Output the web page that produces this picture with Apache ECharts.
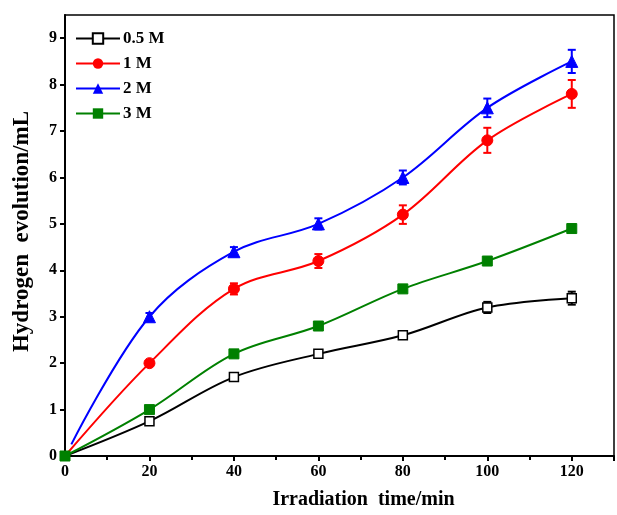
<!DOCTYPE html>
<html>
<head>
<meta charset="utf-8">
<script src="https://cdn.jsdelivr.net/npm/echarts@6/dist/echarts.min.js"></script>
<style>
  html, body { margin: 0; padding: 0; background: #fff; }
  #chart { width: 617px; height: 515px; }
</style>
</head>
<body>
<div id="chart"></div>
<script>
const times = [0, 20, 40, 60, 80, 100, 120];

// 0.5 M
const v05 = [0, 0.75, 1.7, 2.2, 2.6, 3.2, 3.4];
const e05 = [0, 0.08, 0.06, 0.06, 0.06, 0.12, 0.14];
// 1 M
const v1 = [0, 2.0, 3.6, 4.2, 5.2, 6.8, 7.8];
const e1 = [0, 0.05, 0.12, 0.15, 0.2, 0.27, 0.3];
// 2 M (line starts slightly off origin)
const t2 = [1.5, 20, 40, 60, 80, 100, 120];
const v2 = [0.25, 3.0, 4.4, 5.0, 6.0, 7.5, 8.5];
const e2 = [0, 0.08, 0.1, 0.12, 0.15, 0.2, 0.25];
// 3 M
const v3 = [0, 1.0, 2.2, 2.8, 3.6, 4.2, 4.9];
const e3 = [0, 0.05, 0.05, 0.05, 0.05, 0.05, 0.05];

const font = "'Liberation Serif', 'Times New Roman', serif";

function pts(xs, ys, hideFirst) {
  return xs.map((x, i) => {
    const d = { value: [x, ys[i]] };
    if (i === 0 && hideFirst) d.symbol = "none";
    return d;
  });
}

function errData(xs, ys, es) {
  const out = [];
  xs.forEach((x, i) => {
    if (es[i] > 0) out.push([x, ys[i], es[i]]);
  });
  return out;
}

function errSeries(name, color, data) {
  return {
    name: name,
    type: "custom",
    z: 1,
    silent: true,
    renderItem: (params, api) => {
      const x = api.value(0), y = api.value(1), e = api.value(2);
      const top = api.coord([x, y + e]);
      const bot = api.coord([x, y - e]);
      const cw = 4;
      const style = { stroke: color, lineWidth: 2 };
      return {
        type: "group",
        children: [
          { type: "line", shape: { x1: top[0], y1: top[1], x2: bot[0], y2: bot[1] }, style },
          { type: "line", shape: { x1: top[0] - cw, y1: top[1], x2: top[0] + cw, y2: top[1] }, style },
          { type: "line", shape: { x1: bot[0] - cw, y1: bot[1], x2: bot[0] + cw, y2: bot[1] }, style },
        ],
      };
    },
    data: data,
  };
}

function lineSeries(name, color, symbol, size, data, hollow) {
  return {
    name: name,
    type: "line",
    smooth: 0.35,
    z: 3,
    symbol: symbol,
    symbolSize: size,
    showAllSymbol: true,
    lineStyle: { color: color, width: 2 },
    itemStyle: hollow
      ? { color: "#fff", borderColor: color, borderWidth: 1.5 }
      : { color: color, borderColor: color },
    data: data,
  };
}

const chart = echarts.init(document.getElementById("chart"));
chart.setOption({
  animation: false,
  backgroundColor: "#fff",
  grid: {
    left: 65, right: 3, top: 15, bottom: 55,
    show: true, borderColor: "#000", borderWidth: 1.5,
  },
  legend: {
    orient: "vertical",
    left: 70,
    top: 25,
    itemWidth: 44,
    itemHeight: 13,
    itemGap: 8,
    data: ["0.5 M", "1 M", "2 M", "3 M"],
    textStyle: { fontFamily: font, fontWeight: "bold", fontSize: 17, color: "#000", padding: [0, 0, 0, -2] },
  },
  xAxis: {
    type: "value",
    min: 0, max: 130, interval: 20,
    name: "Irradiation  time/min",
    nameLocation: "middle",
    nameGap: 34,
    nameTextStyle: { fontFamily: font, fontWeight: "bold", fontSize: 20, color: "#000", padding: [0, 0, 0, 48] },
    axisLine: { onZero: false, lineStyle: { color: "#000", width: 2 } },
    axisTick: { inside: false, length: 5, lineStyle: { width: 2 } },
    minorTick: { show: true, splitNumber: 2, length: 4, lineStyle: { color: "#000", width: 2 } },
    axisLabel: {
      fontFamily: font, fontWeight: "bold", fontSize: 16, color: "#000", margin: 8,
      formatter: (v) => (v > 120 ? "" : v),
    },
    splitLine: { show: false },
  },
  yAxis: {
    type: "value",
    min: 0, max: 9.5, interval: 1,
    name: "Hydrogen  evolution/mL",
    nameLocation: "middle",
    nameGap: 31,
    nameTextStyle: { fontFamily: font, fontWeight: "bold", fontSize: 23, color: "#000", padding: [0, 0, 0, 8] },
    axisLine: { onZero: false, lineStyle: { color: "#000", width: 2 } },
    axisTick: { inside: false, length: 5, lineStyle: { width: 2 } },
    axisLabel: {
      fontFamily: font, fontWeight: "bold", fontSize: 16, color: "#000", margin: 8,
      showMaxLabel: false,
    },
    splitLine: { show: false },
  },
  series: [
    errSeries("e05", "#000", errData(times, v05, e05)),
    errSeries("e1", "#ff0000", errData(times, v1, e1)),
    errSeries("e2", "#0000ff", errData(t2, v2, e2)),
    errSeries("e3", "#008000", errData(times, v3, e3)),
    lineSeries("0.5 M", "#000", "rect", 9, pts(times, v05, true), true),
    lineSeries("1 M", "#ff0000", "circle", 11, pts(times, v1, true), false),
    lineSeries("2 M", "#0000ff", "triangle", 12, pts(t2, v2, true), false),
    lineSeries("3 M", "#008000", "rect", 10, pts(times, v3, false), false),
  ],
});
</script>
</body>
</html>
